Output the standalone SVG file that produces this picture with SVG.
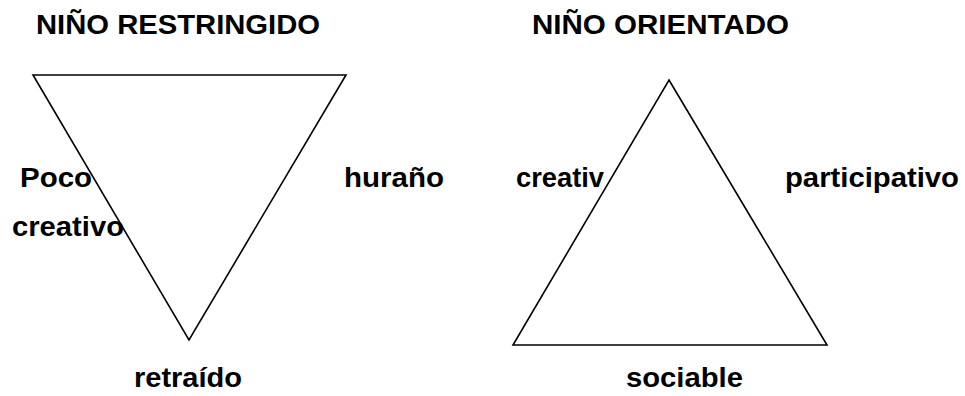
<svg xmlns="http://www.w3.org/2000/svg" width="965" height="396" viewBox="0 0 965 396">
<style>
  .t { font-family: "Liberation Sans", Arial, sans-serif; font-weight: bold; font-size: 27px; fill: #000; }
  .tri { fill: none; stroke: #000; stroke-width: 1.6; stroke-linejoin: miter; }
</style>
<rect width="965" height="396" fill="#fff"/>
<g id="labels">
  <text class="t" x="36" y="34" textLength="284" lengthAdjust="spacingAndGlyphs">NIÑO RESTRINGIDO</text>
  <text class="t" x="532" y="34" textLength="257" lengthAdjust="spacingAndGlyphs">NIÑO ORIENTADO</text>
  <text class="t" x="20" y="187" textLength="72" lengthAdjust="spacingAndGlyphs">Poco</text>
  <text class="t" x="12" y="236" textLength="112" lengthAdjust="spacingAndGlyphs">creativo</text>
  <text class="t" x="344" y="187" textLength="100" lengthAdjust="spacingAndGlyphs">huraño</text>
  <text class="t" x="134" y="387" textLength="108" lengthAdjust="spacingAndGlyphs">retraído</text>
  <text class="t" x="516" y="187" textLength="88" lengthAdjust="spacingAndGlyphs">creativ</text>
  <text class="t" x="785" y="187" textLength="174" lengthAdjust="spacingAndGlyphs">participativo</text>
  <text class="t" x="626" y="387" textLength="117" lengthAdjust="spacingAndGlyphs">sociable</text>
</g>
<g id="nino-restringido">
  <polygon class="tri" points="33,75 346,75 189,340"/>
</g>
<g id="nino-orientado">
  <polygon class="tri" points="669,80 827,345 513,345"/>
</g>
<g id="connectors"></g>
</svg>
